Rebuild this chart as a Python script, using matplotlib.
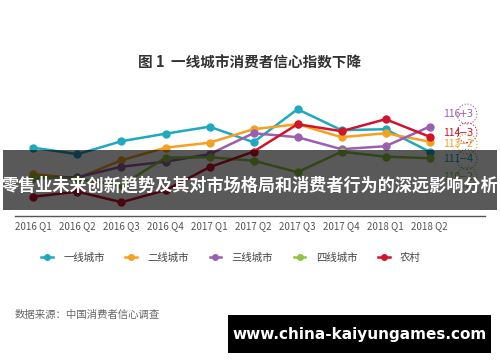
import matplotlib
matplotlib.use('Agg')
import matplotlib.pyplot as plt
from matplotlib.patches import Rectangle
from matplotlib.lines import Line2D

plt.rcParams['font.family'] = ['Noto Sans CJK SC', 'DejaVu Sans']
plt.rcParams['axes.unicode_minus'] = False

quarters = ['2016 Q1', '2016 Q2', '2016 Q3', '2016 Q4', '2017 Q1',
            '2017 Q2', '2017 Q3', '2017 Q4', '2018 Q1', '2018 Q2']

tier1 = [111.8, 110.5, 113.1, 114.6, 116.0, 112.9, 119.5, 115.3, 115.5, 111.0]
tier2 = [106.5, 105.7, 109.3, 111.8, 112.8, 115.5, 116.5, 113.9, 114.7, 113.0]
tier3 = [105.7, 105.9, 108.0, 109.0, 110.5, 114.7, 113.9, 111.5, 112.1, 116.0]
tier4 = [106.0, 105.5, 104.3, 109.8, 109.9, 109.2, 106.9, 111.0, 110.0, 109.7]
rural = [102.0, 103.0, 100.9, 103.3, 107.9, 111.0, 116.5, 115.1, 117.5, 114.0]

series_names = ['一线城市', '二线城市', '三线城市', '四线城市', '农村']
colors = ['#1fa9bf', '#f5a020', '#9b5fb0', '#8dc63f', '#d0142c']

last_labels = ['111', '113', '116', '110', '114']
last_changes = ['−4', '−2', '+3', '−2', '−3']

W, H = 500, 362
fig = plt.figure(figsize=(W / 100, H / 100), dpi=100)
fig.patch.set_facecolor('white')

ax = fig.add_axes([15 / W, 1 - 216 / H, 470 / W, 121 / H])
x = list(range(len(quarters)))
data = [tier1, tier2, tier3, tier4, rural]
order = [3, 2, 1, 0, 4]
for i in order:
    ax.plot(x, data[i], color=colors[i], lw=1.8, marker='o', ms=5, zorder=3 + i)

ax.set_xlim(-0.42, 10.26)
ax.set_ylim(98.14, 122.34)
ax.set_xticks(x)
ax.set_xticklabels(quarters, fontsize=7, color='#555555')
ax.tick_params(axis='x', length=0, pad=4)
ax.set_yticks([])
for s in ['top', 'left', 'right']:
    ax.spines[s].set_visible(False)
ax.spines['bottom'].set_color('#555555')
ax.spines['bottom'].set_linewidth(1)

# labels for the latest values (the lowest one sits under the banner)
label_y = {2: 114, 4: 132.7, 1: 144, 0: 159.3, 3: 177}
for i, yp in label_y.items():
    fig.text(443 / W, 1 - yp / H, last_labels[i], color=colors[i], fontsize=7.5,
             ha='left', va='center', zorder=2)
    fig.text(467 / W, 1 - yp / H, last_changes[i], color=colors[i], fontsize=7.5,
             ha='center', va='center', family=['DejaVu Sans'], zorder=2,
             bbox=dict(boxstyle='circle,pad=0.22', fc='none', ec=colors[i], ls=':', lw=0.8))

fig.text(250 / W, 1 - 63 / H, '图 1  一线城市消费者信心指数下降', fontsize=10.5,
         fontweight='bold', color='#333333', ha='center', va='center')

handles = [Line2D([], [], color=c, lw=1.8, marker='o', ms=4) for c in colors]
fig.legend(handles, series_names, loc='center', bbox_to_anchor=(231 / W, 1 - 257.7 / H),
           ncol=5, frameon=False, fontsize=7.5, handlelength=1.1, handletextpad=1.0,
           columnspacing=2.0, labelcolor='#444444')

fig.text(15 / W, 1 - 315 / H, '数据来源：中国消费者信心调查', fontsize=7.5,
         color='#666666', ha='left', va='center')

# dark banner across the chart
fig.patches.append(Rectangle((3 / W, 1 - 210 / H), 494 / W, 60 / H, transform=fig.transFigure,
                             facecolor='black', alpha=0.65, zorder=20))
fig.text(250 / W, 1 - 185 / H, '零售业未来创新趋势及其对市场格局和消费者行为的深远影响分析',
         fontsize=12.3, fontweight='bold', color='white', ha='center', va='center', zorder=21)

# watermark
fig.patches.append(Rectangle((228 / W, 1 - 352.7 / H), 263 / W, 37.7 / H, transform=fig.transFigure,
                             facecolor='black', zorder=20))
fig.text(359.5 / W, 1 - 334 / H, 'www.china-kaiyungames.com', fontsize=11, fontweight='bold',
         color='white', ha='center', va='center', zorder=21, family=['DejaVu Sans'])

fig.savefig('out.png', dpi=100, facecolor='white')
